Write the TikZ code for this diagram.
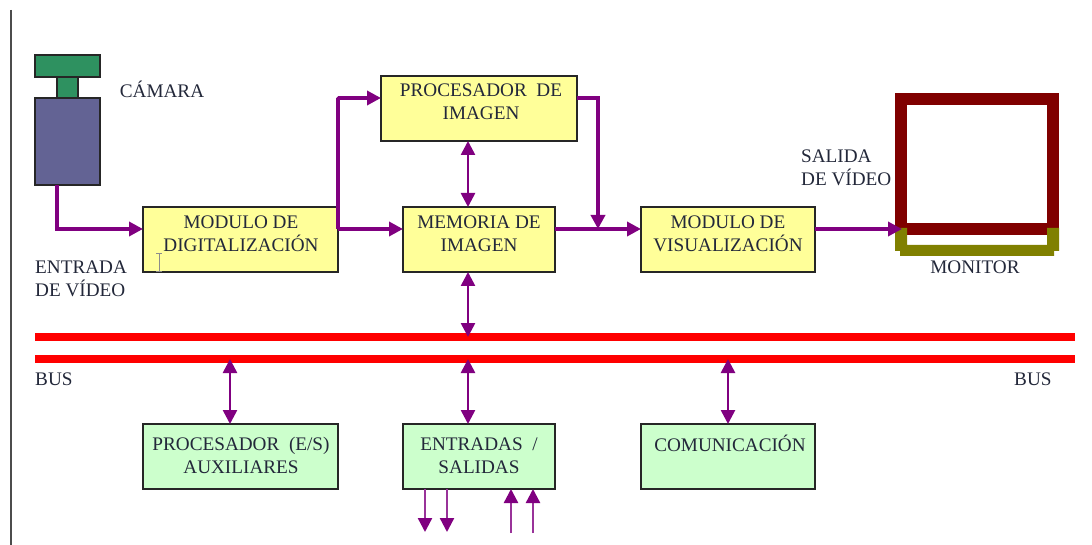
\documentclass[tikz,border=0pt]{standalone}
\usepackage{fontspec}
\setmainfont{Liberation Serif}
\usetikzlibrary{arrows.meta}
\definecolor{conn}{HTML}{800080}
\definecolor{boxy}{HTML}{FFFF99}
\definecolor{boxg}{HTML}{CCFFCC}
\definecolor{camg}{HTML}{2E9160}
\definecolor{camb}{HTML}{636394}
\definecolor{monr}{HTML}{800000}
\definecolor{mono}{HTML}{808000}
\definecolor{txt}{HTML}{23283A}
\tikzset{
  x=1pt,y=-1pt,
  block/.style={draw=black!85,line width=2.4pt,inner sep=0pt,outer sep=0pt},
  yellowbox/.style={block,fill=boxy},
  greenbox/.style={block,fill=boxg},
  campart/.style={draw=black!85,line width=2.4pt,inner sep=0pt,outer sep=0pt},
  lab/.style={text=txt,font=\fontsize{19.2}{23}\selectfont,align=center,inner sep=0pt},
  lableft/.style={lab,align=left,anchor=north west},
  busbar/.style={fill=red,inner sep=0pt,outer sep=0pt,minimum width=1040pt,minimum height=8pt},
  heavy/.style={draw=conn,line width=3.6pt,-{Triangle[length=14pt,width=14pt]}},
  light/.style={draw=conn,line width=2.6pt,{Triangle[length=14pt,width=14pt]}-{Triangle[length=14pt,width=14pt]}},
  lightone/.style={draw=conn!80,line width=2.4pt,-{Triangle[length=14pt,width=14pt,color=conn]}},
}
\begin{document}
\begin{tikzpicture}
\useasboundingbox (0,0) rectangle (1092,545);
\fill[white] (0,0) rectangle (1092,545);
\draw[black!70,line width=2pt] (11,10) -- (11,545);

% camera
\node[campart,fill=camg,minimum width=65pt,minimum height=22pt] (camtop) at (67.5,66) {};
\node[campart,fill=camg,minimum width=21pt,minimum height=21pt] (camneck) at (67.5,87.5) {};
\node[campart,fill=camb,minimum width=65pt,minimum height=87pt] (cambody) at (67.5,141.5) {};
\coordinate (camout) at (57,185);
\node[lab] (camlabel) at (162,89) {CÁMARA};

% blocks
\node[yellowbox,minimum width=195pt,minimum height=65pt] (digit) at (240.5,239.5) {};
\node[yellowbox,minimum width=152pt,minimum height=65pt] (mem) at (479,239.5) {};
\node[yellowbox,minimum width=174pt,minimum height=65pt] (vis) at (728,239.5) {};
\node[yellowbox,minimum width=196pt,minimum height=65pt] (proc) at (479,108.5) {};
\node[greenbox,minimum width=195pt,minimum height=65pt] (aux) at (240.5,456.5) {};
\node[greenbox,minimum width=152pt,minimum height=65pt] (es) at (479,456.5) {};
\node[greenbox,minimum width=174pt,minimum height=65pt] (com) at (728,456.5) {};

\node[lab] (digitt) at (241,233.5) {MODULO DE\\DIGITALIZACIÓN};
\node[lab] (memt) at (479,233.5) {MEMORIA DE\\IMAGEN};
\node[lab] (vist) at (728,233.5) {MODULO DE\\VISUALIZACIÓN};
\node[lab] (proct) at (481,101.5) {PROCESADOR\ \ DE\\IMAGEN};
\node[lab] (auxt) at (241,455.5) {PROCESADOR\ \ (E/S)\\AUXILIARES};
\node[lab] (est) at (479,455.5) {ENTRADAS\ \ /\\SALIDAS};
\node[lab] (comt) at (730,443) {COMUNICACIÓN};

% monitor
\draw[monr,line width=12pt] (901,99) rectangle (1053,229);
\fill[mono] (895,228) rectangle (907,251) (1047,228) rectangle (1059,251) (900,245) rectangle (1054,256) (895,245) rectangle (1059,251);
\coordinate (monin) at (902,229);
\node[lab] (monlabel) at (975,267) {MONITOR};

% bus
\node[busbar] (bus1) at (555,337) {};
\node[busbar] (bus2) at (555,359) {};
\node[lableft] (busl) at (35,373) {BUS};
\node[lableft] (busr) at (1014,373) {BUS};

% labels
\node[lableft] (entrada) at (35,261) {ENTRADA\\DE VÍDEO};
\node[lableft] (salida) at (801,149.5) {SALIDA\\DE VÍDEO};

% text cursor
\draw[black!45,line width=1pt] (156,254) -- (162,254) (159,254) -- (159,272) (156,272) -- (162,272);

% connectors
\coordinate (flow) at (338,229);
\coordinate (up) at (338,98);
\coordinate (procout) at (598,98);
\draw[heavy] (camout) |- (flow -| digit.west);
\draw[heavy] (flow) -- (flow -| mem.west);
\draw[heavy,rounded corners=1pt] (flow) -- (up) -- (up -| proc.west);
\draw[heavy] (flow -| mem.east) -- (flow -| vis.west);
\draw[heavy] (up -| proc.east) -- (procout) -- (procout |- flow);
\draw[heavy] (flow -| vis.east) -- (monin);
\draw[light] (468,141) coordinate (pm) -- (pm |- mem.north);
\draw[light] (468,272) coordinate (mb) -- (mb |- bus1.center);
\draw[light] (230,359) coordinate (ba) -- (ba |- aux.north);
\draw[light] (468,359) coordinate (be) -- (be |- es.north);
\draw[light] (728,359) coordinate (bc) -- (bc |- com.north);
\draw[lightone] (425,489) coordinate (o1) -- (425,532);
\draw[lightone] (447,489) coordinate (o2) -- (447,532);
\draw[lightone] (511,533) coordinate (i1) -- (i1 |- es.south);
\draw[lightone] (533,533) coordinate (i2) -- (i2 |- es.south);
\end{tikzpicture}
\end{document}
